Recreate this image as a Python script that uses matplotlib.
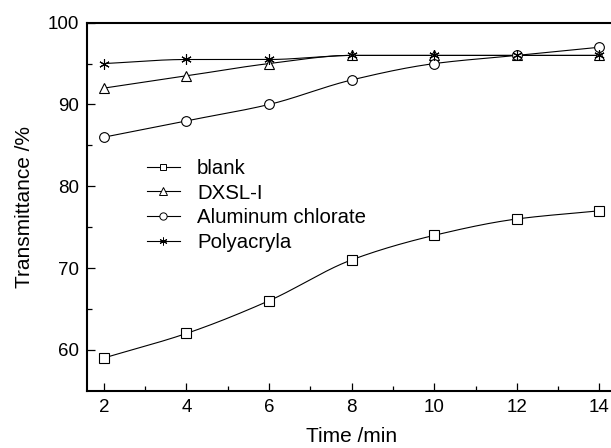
import numpy as np
import matplotlib
matplotlib.use("Agg")
import matplotlib.pyplot as plt
from matplotlib.lines import Line2D

plt.rcParams['font.family'] = ['Liberation Sans', 'DejaVu Sans']

time = [2, 4, 6, 8, 10, 12, 14]
blank = [59, 62, 66, 71, 74, 76, 77]
dxsl = [92, 93.5, 95, 96, 96, 96, 96]
alcl = [86, 88, 90, 93, 95, 96, 97]
poly = [95, 95.5, 95.5, 96, 96, 96, 96]
labels = ["blank", "DXSL-I", "Aluminum chlorate", "Polyacryla"]
markers = ["s", "^", "o", (6, 2, 0)]
msizes = [6.5, 7.5, 7, 7.5]


def smooth(x, y, n=300):
    # monotone cubic (PCHIP) curve through the data points, for drawing only
    x = np.asarray(x, float); y = np.asarray(y, float)
    h = np.diff(x); d = np.diff(y) / h
    m = np.zeros_like(y)
    for i in range(1, len(x) - 1):
        if d[i - 1] * d[i] > 0:
            w1 = 2 * h[i] + h[i - 1]; w2 = h[i] + 2 * h[i - 1]
            m[i] = (w1 + w2) / (w1 / d[i - 1] + w2 / d[i])
    m[0] = d[0]; m[-1] = d[-1]
    xs = np.linspace(x[0], x[-1], n)
    idx = np.clip(np.searchsorted(x, xs) - 1, 0, len(x) - 2)
    t = (xs - x[idx]) / h[idx]
    h00 = 2 * t**3 - 3 * t**2 + 1; h10 = t**3 - 2 * t**2 + t
    h01 = -2 * t**3 + 3 * t**2; h11 = t**3 - t**2
    ys = h00 * y[idx] + h10 * h[idx] * m[idx] + h01 * y[idx + 1] + h11 * h[idx] * m[idx + 1]
    return xs, ys


fig = plt.figure(figsize=(6.11, 4.48), dpi=100)
x0, x1, y0, y1 = 87.3, 616.0, 22.7, 390.7
ax = fig.add_axes([x0 / 611, 1 - y1 / 448, (x1 - x0) / 611, (y1 - y0) / 448])

handles = []
for ys, lab, m, ms in zip([blank, dxsl, alcl, poly], labels, markers, msizes):
    sx, sy = smooth(time, ys)
    ax.plot(sx, sy, color="black", lw=0.8, zorder=2)
    ax.plot(time, ys, linestyle="none", marker=m, markersize=ms,
            markerfacecolor="white", markeredgecolor="black", markeredgewidth=0.8, zorder=3)
    handles.append(Line2D([], [], color="black", lw=0.8, marker=m, markersize=ms * 0.75,
                          markerfacecolor="white", markeredgecolor="black", markeredgewidth=0.7))

ax.set_xlim(1.6, 14.4)
ax.set_ylim(55, 100)
ax.set_xticks([2, 4, 6, 8, 10, 12, 14])
ax.set_xticks([3, 5, 7, 9, 11, 13], minor=True)
ax.set_yticks([60, 70, 80, 90, 100])
ax.set_yticks([65, 75, 85, 95], minor=True)
ax.tick_params(which="both", direction="in", labelsize=13.5, width=0.9)
ax.tick_params(which="major", length=6)
ax.tick_params(which="minor", length=3.5)
ax.tick_params(axis="x", pad=6)
ax.tick_params(axis="y", pad=6)
for s in ax.spines.values():
    s.set_linewidth(1.5)
ax.spines["right"].set_visible(False)

ax.set_xlabel("Time /min", fontsize=15, labelpad=8)
ax.set_ylabel("Transmittance /%", fontsize=15, labelpad=10)

ax.legend(handles, labels, loc="upper left", bbox_to_anchor=(0.113, 0.63),
          frameon=False, fontsize=14.7, handlelength=1.6, handletextpad=0.85,
          labelspacing=0.28, borderaxespad=0, borderpad=0)

fig.savefig("out.png", dpi=100)
